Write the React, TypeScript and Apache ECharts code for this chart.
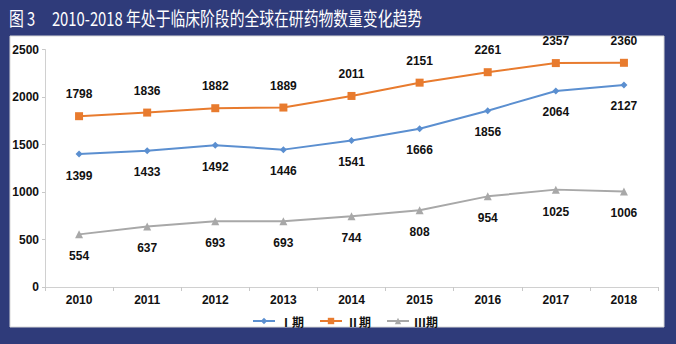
import React, { useEffect, useRef } from "react";
import * as echarts from "echarts";

const years = ["2010", "2011", "2012", "2013", "2014", "2015", "2016", "2017", "2018"];
const phase1 = [1399, 1433, 1492, 1446, 1541, 1666, 1856, 2064, 2127];
const phase2 = [1798, 1836, 1882, 1889, 2011, 2151, 2261, 2357, 2360];
const phase3 = [554, 637, 693, 693, 744, 808, 954, 1025, 1006];
const seriesNames = ["Ⅰ期", "Ⅱ期", "Ⅲ期"];
const titleText = "图 3\u00a0\u00a0\u00a0\u00a0\u00a02010-2018 年处于临床阶段的全球在研药物数量变化趋势";

export default function App() {
  const ref = useRef<HTMLDivElement>(null);
  useEffect(() => {
    if (!ref.current) return;
    const chart = echarts.init(ref.current, null, { renderer: "svg" });
    const labelStyle = {
      show: true,
      fontSize: 12,
      fontWeight: "bold" as const,
      color: "#111",
      fontFamily: "Liberation Sans, Arial, sans-serif",
      distance: 12,
    };
    chart.setOption({
      animation: false,
      backgroundColor: "#2f3b7a",
      graphic: [
        {
          type: "rect",
          shape: { x: 10, y: 36, width: 654, height: 291 },
          style: { fill: "#ffffff", stroke: "#d8d8d8", lineWidth: 1 },
          z: -10,
        },
        {
          type: "text",
          x: 9,
          y: 18,
          scaleX: 0.78,
          style: {
            text: titleText,
            fill: "#ffffff",
            fontSize: 19,
            verticalAlign: "middle",
            fontFamily: "Noto Sans CJK SC, sans-serif",
          },
        },
      ],
      grid: { left: 45, right: 18, top: 49.5, bottom: 57 },
      legend: {
        left: 247,
        top: 310,
        itemWidth: 22,
        itemHeight: 8,
        itemGap: 15,
        textStyle: { fontSize: 12, fontWeight: "bold", color: "#111", fontFamily: "Noto Sans CJK SC, sans-serif" },
        data: seriesNames,
      },
      xAxis: {
        type: "category",
        data: years,
        boundaryGap: true,
        axisLine: { lineStyle: { color: "#d0d0d0", width: 1 } },
        axisTick: { show: true, length: 4, lineStyle: { color: "#c8c8c8" } },
        axisLabel: {
          fontSize: 12,
          fontWeight: "bold",
          color: "#111",
          margin: 7,
          fontFamily: "Liberation Sans, Arial, sans-serif",
        },
      },
      yAxis: {
        type: "value",
        min: 0,
        max: 2500,
        interval: 500,
        splitLine: { show: false },
        axisLine: { show: true, lineStyle: { color: "#d0d0d0", width: 1 } },
        axisTick: { show: true, length: 3, lineStyle: { color: "#c8c8c8" } },
        axisLabel: {
          fontSize: 12,
          fontWeight: "bold",
          color: "#111",
          margin: 6,
          formatter: (v: number) => String(v),
          fontFamily: "Liberation Sans, Arial, sans-serif",
        },
      },
      series: [
        {
          name: seriesNames[0],
          type: "line",
          data: phase1,
          symbol: "diamond",
          symbolSize: 7,
          itemStyle: { color: "#5b8fd0" },
          lineStyle: { width: 2, color: "#5b8fd0" },
          label: { ...labelStyle, position: "bottom" },
        },
        {
          name: seriesNames[1],
          type: "line",
          data: phase2,
          symbol: "rect",
          symbolSize: 8,
          itemStyle: { color: "#e87b2e" },
          lineStyle: { width: 2, color: "#e87b2e" },
          label: { ...labelStyle, position: "top" },
        },
        {
          name: seriesNames[2],
          type: "line",
          data: phase3,
          symbol: "triangle",
          symbolSize: 8,
          itemStyle: { color: "#a8a8a8" },
          lineStyle: { width: 2, color: "#a8a8a8" },
          label: { ...labelStyle, position: "bottom" },
        },
      ],
    });
    return () => chart.dispose();
  }, []);
  return <div ref={ref} style={{ position: "fixed", left: 0, top: 0, width: 676, height: 344 }} />;
}
